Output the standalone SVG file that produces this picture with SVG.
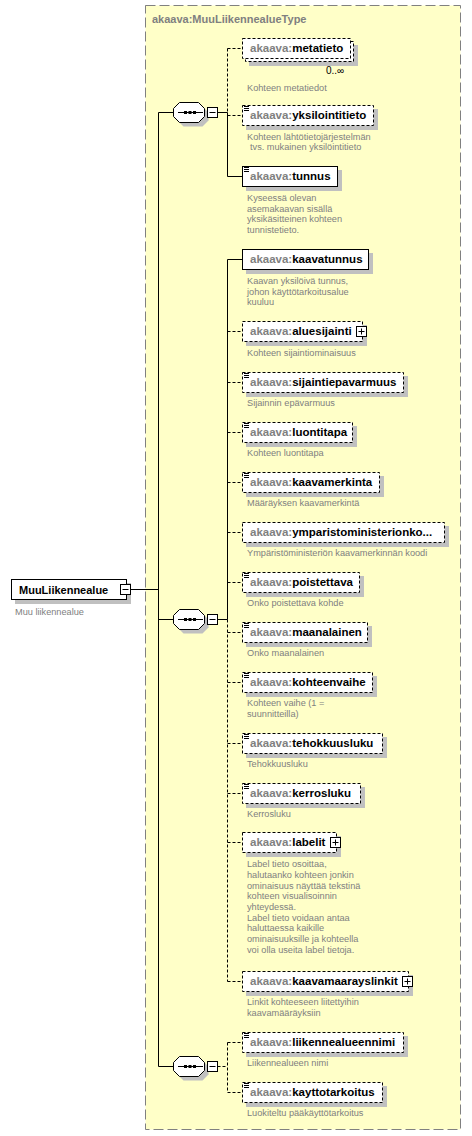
<svg xmlns="http://www.w3.org/2000/svg" width="472" height="1136" viewBox="0 0 472 1136">
<style>
text{font-family:"Liberation Sans",Arial,sans-serif}
.nm{font-size:11.5px;font-weight:bold;fill:#000}
.pf{fill:#808080}
.ds{font-size:9.2px;fill:#808080}
.sh{fill:#c0c0c0;stroke:none}
.bx{fill:#fff;stroke:#000;stroke-width:1}
.o{stroke-dasharray:3,2}
.ic{stroke:#000;stroke-width:1;fill:none}
.ln{stroke:#000;stroke-width:1;fill:none}
.dl{stroke:#000;stroke-width:1;fill:none;stroke-dasharray:3,2}
.btn{fill:#fff;stroke:#000;stroke-width:1}
</style>
<rect id="type" x="145.5" y="5.5" width="315" height="1124" fill="#ffffc8" stroke="#808080" stroke-dasharray="10,4"/>
<text x="152" y="23" style="font-size:11px;font-weight:bold;fill:#808080">akaava:MuuLiikennealueType</text>

<g id="connectors">
<path class="ln" d="M130.5 589.5H158.5M158.5 112.5V1066.5M158.5 112.5H173M158.5 619.5H173M158.5 1066.5H173"/>
<path class="ln" d="M217.5 112.5H227.5M217.5 619.5H227.5"/>
<path class="dl" d="M217.5 1066.5H227.5"/>
<path class="dl" d="M227.5 48.5V112.5"/>
<path class="ln" d="M227.5 112.5V176.5H242"/>
<path class="dl" d="M227.5 48.5H242M227.5 115.5H242"/>
<path class="ln" d="M227.5 259.5V619.5M227.5 259.5H242"/>
<path class="dl" d="M227.5 619.5V981.5"/>
<path class="dl" d="M227.5 331.5H242M227.5 382.5H242M227.5 432.5H242M227.5 482.5H242M227.5 532.5H242M227.5 582.5H242M227.5 632.5H242M227.5 682.5H242M227.5 743.5H242M227.5 793.5H242M227.5 842.5H242M227.5 981.5H242"/>
<path class="dl" d="M227.5 1042.5V1092.5M227.5 1042.5H242M227.5 1092.5H242"/>
</g>

<g id="root">
<rect class="sh" x="15" y="583" width="116" height="21"/>
<rect class="bx" x="11.5" y="579.5" width="115" height="20"/>
<text x="19" y="593.5" style="font-size:11px;font-weight:bold;fill:#000">MuuLiikennealue</text>
<rect class="btn" x="120.5" y="584.5" width="10" height="10"/>
<path class="ic" d="M122.5 589.5H128.5"/>
<text class="ds" x="15" y="615">Muu liikennealue</text>
</g>

<g id="seq1" transform="translate(173,102)">
<polygon class="sh" points="10.5,4.5 29.5,4.5 35.5,10.5 35.5,18.5 29.5,24.5 10.5,24.5 4.5,18.5 4.5,10.5"/>
<polygon class="bx" points="6.5,0.5 25.5,0.5 31.5,6.5 31.5,14.5 25.5,20.5 6.5,20.5 0.5,14.5 0.5,6.5"/>
<path class="ic" d="M5 10.5H30"/>
<rect x="11" y="9" width="3" height="3"/><rect x="15.5" y="9" width="3" height="3"/><rect x="20" y="9" width="3" height="3"/>
<rect class="btn" x="34.5" y="5.5" width="10" height="10"/>
<path class="ic" d="M36.5 10.5H42.5"/>
</g>
<g id="seq2" transform="translate(173,609)">
<polygon class="sh" points="10.5,4.5 29.5,4.5 35.5,10.5 35.5,18.5 29.5,24.5 10.5,24.5 4.5,18.5 4.5,10.5"/>
<polygon class="bx" points="6.5,0.5 25.5,0.5 31.5,6.5 31.5,14.5 25.5,20.5 6.5,20.5 0.5,14.5 0.5,6.5"/>
<path class="ic" d="M5 10.5H30"/>
<rect x="11" y="9" width="3" height="3"/><rect x="15.5" y="9" width="3" height="3"/><rect x="20" y="9" width="3" height="3"/>
<rect class="btn" x="34.5" y="5.5" width="10" height="10"/>
<path class="ic" d="M36.5 10.5H42.5"/>
</g>
<g id="seq3" transform="translate(173,1056)">
<polygon class="sh" points="10.5,4.5 29.5,4.5 35.5,10.5 35.5,18.5 29.5,24.5 10.5,24.5 4.5,18.5 4.5,10.5"/>
<polygon class="bx" points="6.5,0.5 25.5,0.5 31.5,6.5 31.5,14.5 25.5,20.5 6.5,20.5 0.5,14.5 0.5,6.5"/>
<path class="ic" d="M5 10.5H30"/>
<rect x="11" y="9" width="3" height="3"/><rect x="15.5" y="9" width="3" height="3"/><rect x="20" y="9" width="3" height="3"/>
<rect class="btn" x="34.5" y="5.5" width="10" height="10"/>
<path class="ic" d="M36.5 10.5H42.5"/>
</g>

<g id="metatieto">
<rect class="sh" x="249" y="45" width="109" height="21"/>
<rect class="bx o" x="245.5" y="41.5" width="108" height="20"/>
<rect class="bx o" x="242.5" y="38.5" width="108" height="20"/>
<text class="nm" x="250" y="52"><tspan class="pf">akaava:</tspan>metatieto</text>
<text x="326" y="74" style="font-size:10px;fill:#000">0..∞</text>
<text class="ds" x="247" y="91">Kohteen metatiedot</text>
</g>

<g id="yksilointitieto">
<rect class="sh" x="246" y="109" width="132" height="21"/>
<rect class="bx o" x="242.5" y="105.5" width="131" height="20"/>
<path class="ic" d="M244 106.5h5M244 108.5h5M244 110.5h5"/>
<text class="nm" x="250" y="119"><tspan class="pf">akaava:</tspan>yksilointitieto</text>
<text class="ds" x="247" y="139.5">Kohteen lähtötietojärjestelmän</text>
<text class="ds" x="250" y="150.2">tvs. mukainen yksilöintitieto</text>
</g>

<g id="tunnus">
<rect class="sh" x="246" y="170" width="96" height="21"/>
<rect class="bx" x="242.5" y="166.5" width="95" height="20"/>
<path class="ic" d="M244 167.5h5M244 169.5h5M244 171.5h5"/>
<text class="nm" x="250" y="180"><tspan class="pf">akaava:</tspan>tunnus</text>
<text class="ds" x="247" y="201">Kyseessä olevan</text>
<text class="ds" x="247" y="211.7">asemakaavan sisällä</text>
<text class="ds" x="247" y="222.4">yksikäsitteinen kohteen</text>
<text class="ds" x="247" y="233">tunnistetieto.</text>
</g>

<g id="kaavatunnus">
<rect class="sh" x="246" y="253" width="127" height="21"/>
<rect class="bx" x="242.5" y="249.5" width="126" height="20"/>
<text class="nm" x="250" y="263"><tspan class="pf">akaava:</tspan>kaavatunnus</text>
<text class="ds" x="247" y="284">Kaavan yksilöivä tunnus,</text>
<text class="ds" x="247" y="294.7">johon käyttötarkoitusalue</text>
<text class="ds" x="247" y="305.4">kuuluu</text>
</g>

<g id="aluesijainti">
<rect class="sh" x="246" y="325" width="121" height="21"/>
<rect class="bx o" x="242.5" y="321.5" width="120" height="20"/>
<text class="nm" x="250" y="335"><tspan class="pf">akaava:</tspan>aluesijainti</text>
<rect class="btn" x="356.5" y="326.5" width="10" height="10"/>
<path class="ic" d="M358.5 331.5h6M361.5 328.5v6"/>
<text class="ds" x="247" y="355.7">Kohteen sijaintiominaisuus</text>
</g>

<g id="sijaintiepavarmuus">
<rect class="sh" x="246" y="376" width="162" height="21"/>
<rect class="bx o" x="242.5" y="372.5" width="161" height="20"/>
<path class="ic" d="M244 373.5h5M244 375.5h5M244 377.5h5"/>
<text class="nm" x="250" y="386"><tspan class="pf">akaava:</tspan>sijaintiepavarmuus</text>
<text class="ds" x="247" y="406">Sijainnin epävarmuus</text>
</g>

<g id="luontitapa">
<rect class="sh" x="246" y="426" width="111" height="21"/>
<rect class="bx o" x="242.5" y="422.5" width="110" height="20"/>
<path class="ic" d="M244 423.5h5M244 425.5h5M244 427.5h5"/>
<text class="nm" x="250" y="436"><tspan class="pf">akaava:</tspan>luontitapa</text>
<text class="ds" x="247" y="456">Kohteen luontitapa</text>
</g>

<g id="kaavamerkinta">
<rect class="sh" x="246" y="476" width="138" height="21"/>
<rect class="bx o" x="242.5" y="472.5" width="137" height="20"/>
<path class="ic" d="M244 473.5h5M244 475.5h5M244 477.5h5"/>
<text class="nm" x="250" y="486"><tspan class="pf">akaava:</tspan>kaavamerkinta</text>
<text class="ds" x="247" y="506">Määräyksen kaavamerkintä</text>
</g>

<g id="ymparistoministerionkoodi">
<rect class="sh" x="246" y="526" width="203" height="21"/>
<rect class="bx o" x="242.5" y="522.5" width="202" height="20"/>
<text class="nm" x="250" y="536"><tspan class="pf">akaava:</tspan>ymparistoministerionko...</text>
<text class="ds" x="247" y="556">Ympäristöministeriön kaavamerkinnän koodi</text>
</g>

<g id="poistettava">
<rect class="sh" x="246" y="576" width="118" height="21"/>
<rect class="bx o" x="242.5" y="572.5" width="117" height="20"/>
<path class="ic" d="M244 573.5h5M244 575.5h5M244 577.5h5"/>
<text class="nm" x="250" y="586"><tspan class="pf">akaava:</tspan>poistettava</text>
<text class="ds" x="247" y="606">Onko poistettava kohde</text>
</g>

<g id="maanalainen">
<rect class="sh" x="246" y="626" width="126" height="21"/>
<rect class="bx o" x="242.5" y="622.5" width="125" height="20"/>
<path class="ic" d="M244 623.5h5M244 625.5h5M244 627.5h5"/>
<text class="nm" x="250" y="636"><tspan class="pf">akaava:</tspan>maanalainen</text>
<text class="ds" x="247" y="656">Onko maanalainen</text>
</g>

<g id="kohteenvaihe">
<rect class="sh" x="246" y="676" width="131" height="21"/>
<rect class="bx o" x="242.5" y="672.5" width="130" height="20"/>
<path class="ic" d="M244 673.5h5M244 675.5h5M244 677.5h5"/>
<text class="nm" x="250" y="686"><tspan class="pf">akaava:</tspan>kohteenvaihe</text>
<text class="ds" x="247" y="706">Kohteen vaihe (1 =</text>
<text class="ds" x="247" y="716.7">suunnitteilla)</text>
</g>

<g id="tehokkuusluku">
<rect class="sh" x="246" y="737" width="141" height="21"/>
<rect class="bx o" x="242.5" y="733.5" width="140" height="20"/>
<path class="ic" d="M244 734.5h5M244 736.5h5M244 738.5h5"/>
<text class="nm" x="250" y="747"><tspan class="pf">akaava:</tspan>tehokkuusluku</text>
<text class="ds" x="247" y="767">Tehokkuusluku</text>
</g>

<g id="kerrosluku">
<rect class="sh" x="246" y="787" width="119" height="21"/>
<rect class="bx o" x="242.5" y="783.5" width="118" height="20"/>
<path class="ic" d="M244 784.5h5M244 786.5h5M244 788.5h5"/>
<text class="nm" x="250" y="797"><tspan class="pf">akaava:</tspan>kerrosluku</text>
<text class="ds" x="247" y="817">Kerrosluku</text>
</g>

<g id="labelit">
<rect class="sh" x="246" y="836" width="95" height="21"/>
<rect class="bx o" x="242.5" y="832.5" width="94" height="20"/>
<text class="nm" x="250" y="846"><tspan class="pf">akaava:</tspan>labelit</text>
<rect class="btn" x="330.5" y="837.5" width="10" height="10"/>
<path class="ic" d="M332.5 842.5h6M335.5 839.5v6"/>
<text class="ds" x="247" y="867.3">Label tieto osoittaa,</text>
<text class="ds" x="247" y="878">halutaanko kohteen jonkin</text>
<text class="ds" x="247" y="888.6">ominaisuus näyttää tekstinä</text>
<text class="ds" x="247" y="899.3">kohteen visualisoinnin</text>
<text class="ds" x="247" y="910">yhteydessä.</text>
<text class="ds" x="247" y="920.6">Label tieto voidaan antaa</text>
<text class="ds" x="247" y="931.3">haluttaessa kaikille</text>
<text class="ds" x="247" y="942">ominaisuuksille ja kohteella</text>
<text class="ds" x="247" y="952.6">voi olla useita label tietoja.</text>
</g>

<g id="kaavamaarayslinkit">
<rect class="sh" x="246" y="975" width="167" height="21"/>
<rect class="bx o" x="242.5" y="971.5" width="166" height="20"/>
<text class="nm" x="250" y="985"><tspan class="pf">akaava:</tspan>kaavamaarayslinkit</text>
<rect class="btn" x="402.5" y="976.5" width="10" height="10"/>
<path class="ic" d="M404.5 981.5h6M407.5 978.5v6"/>
<text class="ds" x="247" y="1005.3">Linkit kohteeseen liitettyihin</text>
<text class="ds" x="247" y="1016">kaavamääräyksiin</text>
</g>

<g id="liikennealueennimi">
<rect class="sh" x="246" y="1036" width="162" height="21"/>
<rect class="bx o" x="242.5" y="1032.5" width="161" height="20"/>
<path class="ic" d="M244 1033.5h5M244 1035.5h5M244 1037.5h5"/>
<text class="nm" x="250" y="1046"><tspan class="pf">akaava:</tspan>liikennealueennimi</text>
<text class="ds" x="247" y="1066.3">Liikennealueen nimi</text>
</g>

<g id="kayttotarkoitus">
<rect class="sh" x="246" y="1086" width="141" height="21"/>
<rect class="bx o" x="242.5" y="1082.5" width="140" height="20"/>
<path class="ic" d="M244 1083.5h5M244 1085.5h5M244 1087.5h5"/>
<text class="nm" x="250" y="1096"><tspan class="pf">akaava:</tspan>kayttotarkoitus</text>
<text class="ds" x="247" y="1116.3">Luokiteltu pääkäyttötarkoitus</text>
</g>
</svg>
